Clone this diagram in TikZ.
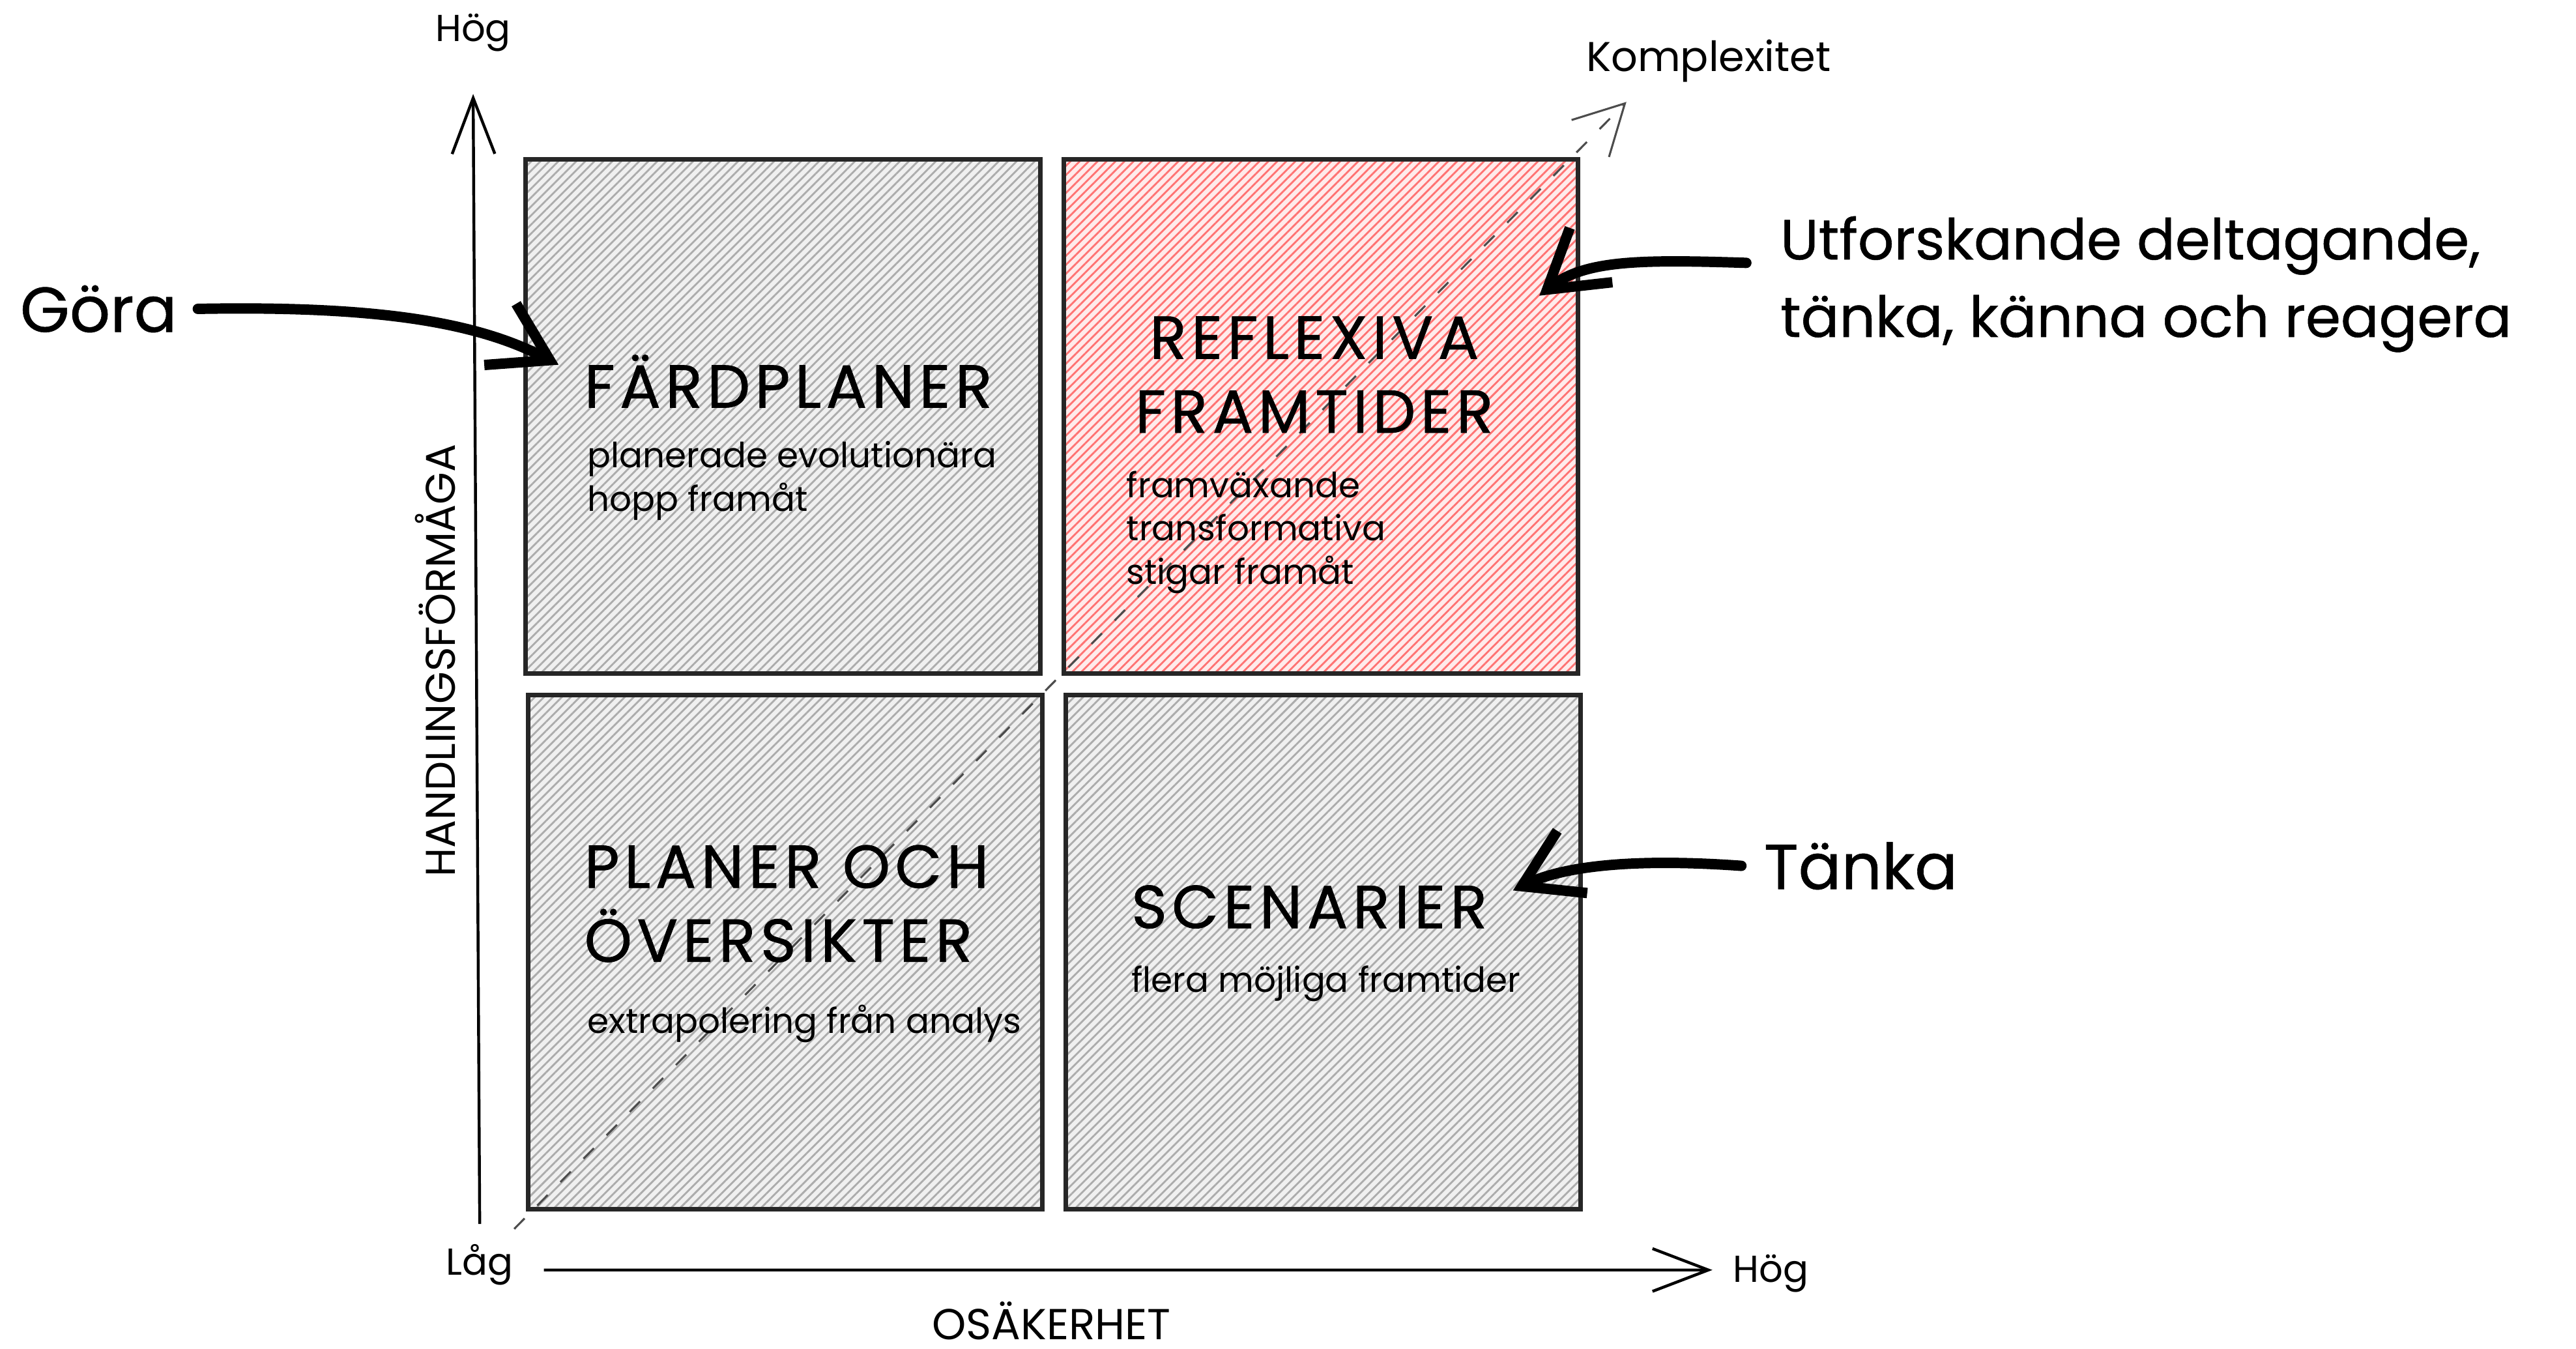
\documentclass[tikz,border=0pt]{standalone}
\usepackage{fontspec}
\setmainfont{Poppins}
\usetikzlibrary{arrows.meta,patterns.meta,positioning}

\tikzset{
  quad/.style={draw=black!85, line width=0.8pt, minimum width=3.13cm, minimum height=3.13cm, inner sep=0pt},
  greyhatch/.style={preaction={fill=gray!12}, pattern={Lines[angle=45,distance=1.1pt,line width=0.32pt]}, pattern color=gray!65},
  redhatch/.style={preaction={fill=red!8}, pattern={Lines[angle=45,distance=1.1pt,line width=0.32pt]}, pattern color=red!55},
  title/.style={anchor=west, align=left, inner sep=0pt, font=\fontsize{10.5}{12.8}\selectfont\addfontfeature{FakeBold=0.8,LetterSpace=8}},
  sub/.style={anchor=north west, align=left, inner sep=0pt, font=\fontsize{6}{7.5}\selectfont},
  note/.style={inner sep=0pt, align=left, font=\fontsize{11}{13.4}\selectfont\addfontfeature{FakeBold=0.6}},
  axislabel/.style={inner sep=0pt, font=\fontsize{6.5}{8}\selectfont},
  axis/.style={line width=0.5pt, -{Straight Barb[length=3.4mm,width=2.6mm]}},
  pointer/.style={line width=1.8pt, line cap=round, -{Straight Barb[length=3.4mm,width=4.2mm]}},
  diagline/.style={draw=black!70, line width=0.35pt, dash pattern=on 0.9mm off 1.1mm, -{Straight Barb[length=3mm,width=3.2mm]}}
}

\begin{document}
\begin{tikzpicture}[x=0.01cm, y=-0.01cm]
  \useasboundingbox (0,0) rectangle (1568,821);

  % Quadrants
  \node[quad, greyhatch] (fard) at (476.5,253.5) {};
  \node[quad, redhatch] (refl) at (804,253.5) {};
  \node[quad, greyhatch] (plan) at (478,579.5) {};
  \node[quad, greyhatch] (scen) at (805.5,579.5) {};

  % Complexity diagonal
  \coordinate (diagstart) at (313,748);
  \coordinate (diagtip) at (990,62);
  \draw[diagline] (diagstart) -- (diagtip);
  \node[axislabel, font=\fontsize{7.2}{9}\selectfont] (komp) at (1040,37) {Komplexitet};

  % Axes and their labels
  \node[axislabel] (ytop) at (288,20) {Hög};
  \node[axislabel] (xlow) at (292,770) {Låg};
  \node[axislabel] (xtop) at (1078,775) {Hög};
  \node[axislabel, font=\fontsize{7.5}{9}\selectfont] (xname) at (640,804) {OSÄKERHET};
  \node[axislabel, font=\fontsize{7.2}{9}\selectfont, rotate=90] (yname) at (265,402) {HANDLINGSFÖRMÅGA};
  \coordinate (ybase) at (292,745);
  \draw[axis] (ybase) -- ([yshift=-2.5mm]ytop.south);
  \draw[axis] ([xshift=1.8mm,yshift=-0.3mm]xlow.east) -- ([xshift=-1.2mm,yshift=0.2mm]xtop.west);

  % Quadrant texts
  \node[title] (fardt) at (355,232) {FÄRDPLANER};
  \node[sub] (fards) at (357,268) {planerade evolutionära\\hopp framåt};
  \node[title, anchor=center, align=center] (reflt) at (800,228) {REFLEXIVA\\FRAMTIDER};
  \node[sub] (refls) at (685,286) {framväxande\\transformativa\\stigar framåt};
  \node[title] (plant) at (355,550) {PLANER OCH\\ÖVERSIKTER};
  \node[sub] (plans) at (357,611) {extrapolering från analys};
  \node[title] (scent) at (688,552) {SCENARIER};
  \node[sub] (scens) at (688,587) {flera möjliga framtider};

  % Side notes
  \node[note] (gora) at (60,188) {Göra};
  \node[note, anchor=west, font=\fontsize{9.8}{13.4}\selectfont\addfontfeature{FakeBold=0.6}] (utf) at (1083,173) {Utforskande deltagande,\\tänka, känna och reagera};
  \node[note, anchor=west] (tanka) at (1073,527) {Tänka};

  % Pointers
  \draw[pointer] ([xshift=1.2mm]gora.east) .. controls (230,186) and (290,196) .. ([xshift=-1.5mm,yshift=1mm]fardt.west);
  \draw[pointer] ([xshift=-2mm,yshift=1.3mm]utf.west) .. controls (1000,158) and (965,158) .. ([xshift=-2.5mm,yshift=7.35mm]refl.east);
  \draw[pointer] ([xshift=-1.3mm]tanka.west) .. controls (990,522) and (950,528) .. ([xshift=1.5mm,yshift=1mm]scent.east);
\end{tikzpicture}
\end{document}
